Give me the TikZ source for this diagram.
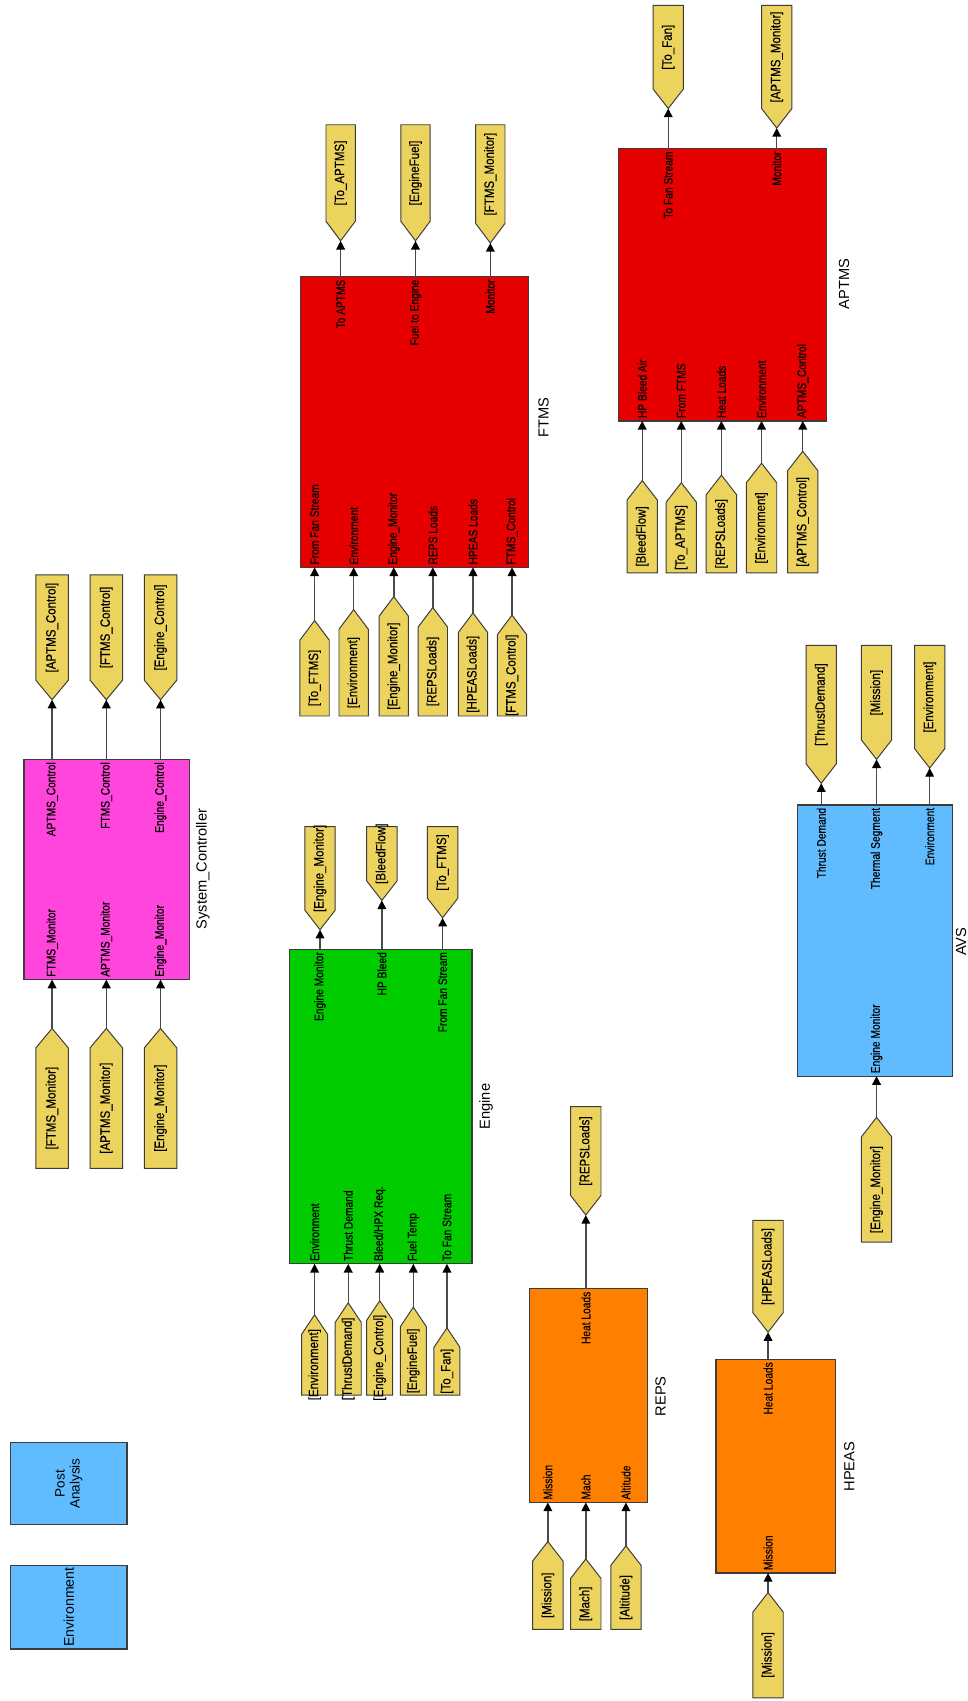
\documentclass[tikz,border=0pt]{standalone}
\usepackage{fontspec}
\setmainfont{Liberation Sans}
\newfontfamily\lblfont[FakeStretch=0.82,FakeBold=0.35]{Liberation Sans}
\newfontfamily\tagfont[FakeStretch=0.85,FakeBold=0.25]{Liberation Sans}
\usetikzlibrary{arrows.meta}
\definecolor{pinkc}{HTML}{FF45DC}
\definecolor{redc}{HTML}{E60000}
\definecolor{greenc}{HTML}{00CC00}
\definecolor{orangec}{HTML}{FF8000}
\definecolor{bluec}{HTML}{60BCFF}
\definecolor{tagfill}{HTML}{EBD35E}
\definecolor{edgec}{HTML}{3C3C3C}
\definecolor{sigc}{HTML}{4A4A4A}
\def\tagw{14}
\def\tagd{18}
\newcommand{\blockbox}[6]{%
  \node[blk, fill=#6, minimum width=#4pt, minimum height=#5pt, anchor=north west] (#1) at (#2,#3) {};}
\newcommand{\insig}[7]{% id, x, edge, label, tip, bottom, tag text
  \coordinate (#1-p) at (#2,#3);
  \node[plbl,anchor=west] (#1-l) at (#2,#3-2) {#4};
  \draw[tagshape] (#2,#5) -- (#2+\tagw,#5+\tagd) -- (#2+\tagw,#6) -- (#2-\tagw,#6) -- (#2-\tagw,#5+\tagd) -- cycle;
  \coordinate (#1-g) at (#2,#5);
  \node[tagtxt] (#1-t) at (#2,{(#5+\tagd+#6)/2}) {#7};
  \draw[sig] (#1-g) -- (#1-p);}
\newcommand{\outsig}[7]{% id, x, edge, label, tip, top, tag text
  \coordinate (#1-p) at (#2,#3);
  \node[plbl,anchor=east] (#1-l) at (#2,#3+2) {#4};
  \draw[tagshape] (#2-\tagw,#6) -- (#2+\tagw,#6) -- (#2+\tagw,#5-\tagd) -- (#2,#5) -- (#2-\tagw,#5-\tagd) -- cycle;
  \coordinate (#1-g) at (#2,#5);
  \node[tagtxt] (#1-t) at (#2,{(#6+#5-\tagd)/2}) {#7};
  \draw[sig] (#1-p) -- (#1-g);}
\begin{document}
\begin{tikzpicture}[x=1pt,y=-1pt,
  blk/.style={draw=edgec, line width=1.2pt, inner sep=0pt, outer sep=0pt},
  tagshape/.style={draw=edgec, fill=tagfill, line width=0.9pt, line join=miter},
  sig/.style={draw=sigc, line width=1.3pt, -{Triangle[length=8pt,width=8pt,color=black]}},
  plbl/.style={font=\lblfont\fontsize{11.5}{13}\selectfont, rotate=90, inner sep=0.5pt},
  tagtxt/.style={font=\tagfont\fontsize{12.5}{14}\selectfont, rotate=90, inner sep=0pt},
  blbl/.style={font=\fontsize{13.5}{15}\selectfont, rotate=90, inner sep=0pt}]
\useasboundingbox[fill=white] (0,0) rectangle (892,1568);

% System_Controller
\def\tagw{15}
\blockbox{sc}{22}{700}{153}{203}{pinkc}
\outsig{sc1}{48}{700}{APTMS\_Control}{645}{530}{[APTMS\_Control]}
\outsig{sc2}{98}{700}{FTMS\_Control}{645}{530}{[FTMS\_Control]}
\outsig{sc3}{148}{700}{Engine\_Control}{645}{530}{[Engine\_Control]}
\insig{sc4}{48}{903}{FTMS\_Monitor}{948}{1077}{[FTMS\_Monitor]}
\insig{sc5}{98}{903}{APTMS\_Monitor}{948}{1077}{[APTMS\_Monitor]}
\insig{sc6}{148}{903}{Engine\_Monitor}{948}{1077}{[Engine\_Monitor]}
\node[blbl] (scn) at (187,801) {System\_Controller};

% FTMS
\def\tagw{13.5}
\blockbox{ftms}{277}{255}{210}{268}{redc}
\outsig{f1}{314}{255}{To APTMS}{222}{115}{[To\_APTMS]}
\outsig{f2}{383}{255}{Fuel to Engine}{222}{115}{[EngineFuel]}
\outsig{f3}{452}{255}{Monitor}{224}{115}{[FTMS\_Monitor]}
\insig{f4}{290}{523}{From Fan Stream}{572}{660}{[To\_FTMS]}
\insig{f5}{326}{523}{Environment}{562}{660}{[Environment]}
\insig{f6}{363}{523}{Engine\_Monitor}{550}{660}{[Engine\_Monitor]}
\insig{f7}{399}{523}{REPS Loads}{560}{660}{[REPSLoads]}
\insig{f8}{436}{523}{HPEAS Loads}{565}{660}{[HPEASLoads]}
\insig{f9}{472}{523}{FTMS\_Control}{567}{660}{[FTMS\_Control]}
\node[blbl] (ftmsn) at (501,385) {FTMS};

% APTMS
\def\tagw{14}
\blockbox{aptms}{570}{137}{192}{251}{redc}
\outsig{a1}{616}{137}{To Fan Stream}{100}{5}{[To\_Fan]}
\outsig{a2}{716}{137}{Monitor}{118}{5}{[APTMS\_Monitor]}
\insig{a3}{592}{388}{HP Bleed Air}{443}{528}{[BleedFlow]}
\insig{a4}{628}{388}{From FTMS}{445}{528}{[To\_APTMS]}
\insig{a5}{665}{388}{Heat Loads}{438}{528}{[REPSLoads]}
\insig{a6}{702}{388}{Environment}{427}{528}{[Environment]}
\insig{a7}{740}{388}{APTMS\_Control}{416}{528}{[APTMS\_Control]}
\node[blbl] (aptmsn) at (778,262) {APTMS};

% Engine
\blockbox{eng}{267}{875}{168}{290}{greenc}
\def\tagw{14}
\outsig{e1}{295}{875}{Engine Monitor}{857}{762}{[Engine\_Monitor]}
\outsig{e2}{352}{875}{HP Bleed}{830}{762}{[BleedFlow]}
\outsig{e3}{408}{875}{From Fan Stream}{846}{762}{[To\_FTMS]}
\def\tagw{12}
\insig{e4}{290}{1165}{Environment}{1212}{1286}{[Environment]}
\insig{e5}{321}{1165}{Thrust Demand}{1201}{1286}{[ThrustDemand]}
\insig{e6}{350}{1165}{Bleed/HPX Req.}{1199}{1286}{[Engine\_Control]}
\insig{e7}{381}{1165}{Fuel Temp}{1205}{1286}{[EngineFuel]}
\insig{e8}{412}{1165}{To Fan Stream}{1224}{1286}{[To\_Fan]}
\node[blbl] (engn) at (448,1020) {Engine};

% REPS
\def\tagw{14}
\blockbox{reps}{488}{1188}{109}{197}{orangec}
\outsig{r1}{540}{1188}{Heat Loads}{1120}{1020}{[REPSLoads]}
\insig{r2}{505}{1385}{Mission}{1421}{1502}{[Mission]}
\insig{r3}{540}{1385}{Mach}{1437}{1502}{[Mach]}
\insig{r4}{577}{1385}{Altitude}{1425}{1502}{[Altitude]}
\node[blbl] (repsn) at (609,1287) {REPS};

% HPEAS
\blockbox{hpeas}{660}{1253}{110}{197}{orangec}
\outsig{h1}{708}{1253}{Heat Loads}{1228}{1125}{[HPEASLoads]}
\insig{h2}{708}{1450}{Mission}{1468}{1565}{[Mission]}
\node[blbl] (hpeasn) at (783,1352) {HPEAS};

% AVS
\blockbox{avs}{735}{742}{143}{250}{bluec}
\outsig{v1}{757}{742}{Thrust Demand}{722}{595}{[ThrustDemand]}
\outsig{v2}{808}{742}{Thermal Segment}{700}{595}{[Mission]}
\outsig{v3}{857}{742}{Environment}{708}{595}{[Environment]}
\insig{v4}{808}{992}{Engine Monitor}{1030}{1145}{[Engine\_Monitor]}
\node[blbl] (avsn) at (886,868) {AVS};

% Post Analysis and Environment
\blockbox{post}{10}{1330}{107}{75}{bluec}
\node[rotate=90, align=center, font=\fontsize{12.5}{14}\selectfont, inner sep=0pt] (postt) at (post.center) {Post\\Analysis};
\blockbox{env}{10}{1443}{107}{77}{bluec}
\node[rotate=90, font=\fontsize{13}{14}\selectfont, inner sep=0pt] (envt) at (env.center) {Environment};
\end{tikzpicture}
\end{document}
